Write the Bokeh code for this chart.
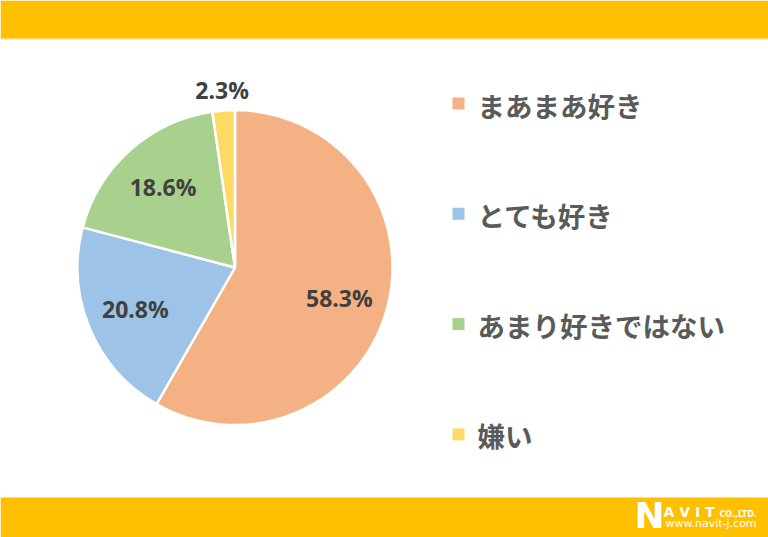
import math
from bokeh.plotting import figure
from bokeh.models import Range1d
from bokeh.core.properties import value
from bokeh.embed import file_html
from bokeh.resources import INLINE

# ---- data ----
categories = ["まあまあ好き", "とても好き", "あまり好きではない", "嫌い"]
values = [58.3, 20.8, 18.6, 2.3]
labels = ["58.3%", "20.8%", "18.6%", "2.3%"]
colors = ["#F4B183", "#9DC3E6", "#A9D18E", "#FFD966"]

W, H = 768, 537

def X(px):
    return px

def Y(py):
    return H - py

p = figure(width=W, height=H, output_backend="svg", toolbar_location=None,
           x_range=Range1d(0, W), y_range=Range1d(0, H), min_border=0,
           background_fill_color="white", border_fill_color="white")
p.axis.visible = False
p.grid.visible = False
p.outline_line_color = None

band = "#FFC000"
# top and bottom bands
p.quad(left=[0], right=[W], bottom=[Y(38)], top=[H], fill_color=band, line_color=None)
p.quad(left=[0], right=[W], bottom=[Y(39)], top=[Y(38)], fill_color="#FFD75A", line_color=None)
p.quad(left=[0], right=[W], bottom=[0], top=[Y(497)], fill_color=band, line_color=None)

# pie
cx, cy, R = X(234.5), Y(267), 157.5
total = sum(values)
start = math.pi / 2
starts, ends, mids = [], [], []
for v in values:
    a = v / total * 2 * math.pi
    starts.append(start)
    ends.append(start - a)
    mids.append(start - a / 2)
    start -= a
p.wedge(x=cx, y=cy, radius=R, start_angle=starts, end_angle=ends,
        direction="clock", fill_color=colors, line_color="white", line_width=2.5)

# data labels
lx, ly = [], []
for i, m in enumerate(mids):
    r = 178 if values[i] < 5 else 108
    lx.append(cx + r * math.cos(m))
    ly.append(cy + r * math.sin(m) - (3 if values[i] > 50 else 0))
p.text(x=lx, y=ly, text=labels, text_font=value("Open Sans"), text_font_style="bold",
       text_font_size="23px", text_color="#404040", text_align="center",
       text_baseline="middle")

# legend
leg_y = [Y(103 + i * 110.3) for i in range(len(categories))]
p.rect(x=[X(458)] * len(categories), y=leg_y, width=12, height=12,
       fill_color=colors, line_color=None)
p.text(x=[X(477)] * len(categories), y=[v - 1 for v in leg_y], text=categories,
       text_font=value("Noto Sans CJK JP"), text_font_size="27.5px",
       text_font_style="bold", text_color="#5A5A5A", text_align="left",
       text_baseline="middle")

# logo
p.text(x=[X(634)], y=[Y(515)], text=["N"], text_font=value("DejaVu Sans"),
       text_font_style="bold", text_font_size="36px", text_color="white",
       text_baseline="middle")
p.text(x=[X(663)], y=[Y(511)], text=["A V I T"], text_font=value("DejaVu Sans"),
       text_font_style="bold", text_font_size="14px", text_color="white",
       text_baseline="middle")
p.text(x=[X(719)], y=[Y(514)], text=["CO.,LTD."], text_font=value("DejaVu Sans"),
       text_font_style="bold", text_font_size="8px", text_color="white",
       text_baseline="middle")
p.text(x=[X(665)], y=[Y(523)], text=["www.navit-j.com"], text_font=value("DejaVu Sans"),
       text_font_size="11px", text_color="white", text_baseline="middle")

open("out.html", "w").write(file_html(p, INLINE))
